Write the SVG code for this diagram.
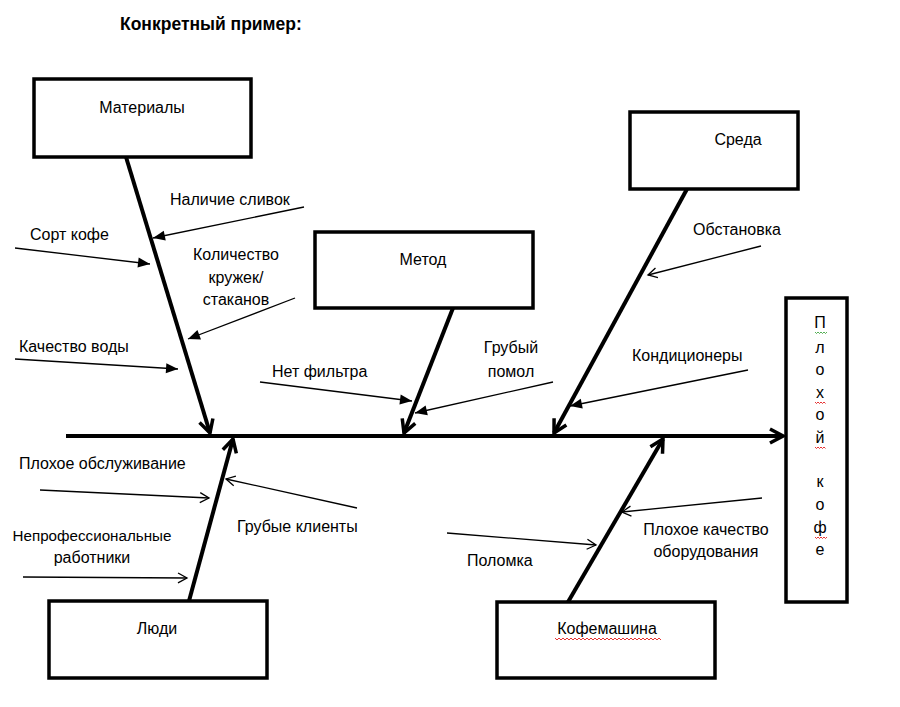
<svg xmlns="http://www.w3.org/2000/svg" width="900" height="707" viewBox="0 0 900 707">
<style>
text{font-family:"Liberation Sans","DejaVu Sans",sans-serif;font-size:16px;fill:#000}
.t{text-anchor:middle}
.title{font-weight:bold;font-size:17.5px}
.box{fill:#fff;stroke:#000;stroke-width:3.5}
.bone{stroke:#000;stroke-width:4;fill:none}
.thin{stroke:#000;stroke-width:1.3;fill:none}
.wavy{fill:none;stroke:#e00000;stroke-width:0.8}
.wavyg{fill:none;stroke:#2a9a2a;stroke-width:0.8}
</style>
<defs>
<marker id="big" viewBox="-16 -10 18 20" refX="0" refY="0" markerWidth="18" markerHeight="20" markerUnits="userSpaceOnUse" orient="auto">
<path d="M-13,-7 L0,0 L-13,7" fill="none" stroke="#000" stroke-width="3.5"/>
</marker>
<marker id="fill" viewBox="-14 -7 16 14" refX="0" refY="0" markerWidth="16" markerHeight="14" markerUnits="userSpaceOnUse" orient="auto">
<path d="M-12,-5 L0,0 L-12,5 Z" fill="#000"/>
</marker>
<marker id="open" viewBox="-12 -7 14 14" refX="0" refY="0" markerWidth="14" markerHeight="14" markerUnits="userSpaceOnUse" orient="auto">
<path d="M-9,-5 L0,0 L-9,5" fill="none" stroke="#000" stroke-width="1.3"/>
</marker>
</defs>
<rect width="900" height="707" fill="#fff"/>
<text class="title" x="120" y="30">Конкретный пример:</text>

<g id="connectors">
<line class="bone" x1="66" y1="436" x2="783" y2="436" marker-end="url(#big)"/>
<line class="bone" x1="126" y1="157" x2="210" y2="433" marker-end="url(#big)"/>
<line class="bone" x1="453" y1="308" x2="404" y2="433" marker-end="url(#big)"/>
<line class="bone" x1="687" y1="189" x2="554" y2="433" marker-end="url(#big)"/>
<line class="bone" x1="189" y1="601" x2="233" y2="439" marker-end="url(#big)"/>
<line class="bone" x1="568" y1="602" x2="663" y2="439" marker-end="url(#big)"/>

<line class="thin" x1="304" y1="207" x2="153" y2="238" marker-end="url(#fill)"/>
<line class="thin" x1="15" y1="248" x2="150" y2="264" marker-end="url(#fill)"/>
<line class="thin" x1="295" y1="298" x2="188" y2="339" marker-end="url(#fill)"/>
<line class="thin" x1="15" y1="359" x2="178" y2="369" marker-end="url(#fill)"/>
<line class="thin" x1="260" y1="382" x2="412" y2="401" marker-end="url(#fill)"/>
<line class="thin" x1="553" y1="382" x2="415" y2="413" marker-end="url(#fill)"/>
<line class="thin" x1="761" y1="246" x2="648" y2="275" marker-end="url(#open)"/>
<line class="thin" x1="748" y1="370" x2="570" y2="406" marker-end="url(#fill)"/>
<line class="thin" x1="40" y1="490" x2="209" y2="498" marker-end="url(#open)"/>
<line class="thin" x1="357" y1="508" x2="226" y2="479" marker-end="url(#open)"/>
<line class="thin" x1="23" y1="577" x2="187" y2="578" marker-end="url(#open)"/>
<line class="thin" x1="447" y1="533" x2="596" y2="545" marker-end="url(#open)"/>
<line class="thin" x1="762" y1="498" x2="622" y2="512" marker-end="url(#open)"/>
</g>

<g id="labels">
<text x="170" y="205">Наличие сливок</text>
<text x="30" y="240">Сорт кофе</text>
<text class="t" x="236" y="260">Количество</text>
<text class="t" x="236" y="283">кружек/</text>
<text class="t" x="236" y="305">стаканов</text>
<text x="19" y="352">Качество воды</text>
<text x="272" y="377">Нет фильтра</text>
<text class="t" x="511" y="353">Грубый</text>
<text class="t" x="511" y="377">помол</text>
<text x="693" y="235">Обстановка</text>
<text x="632" y="361">Кондиционеры</text>
<text x="19" y="469">Плохое обслуживание</text>
<text x="237" y="532">Грубые клиенты</text>
<text class="t" x="92" y="541" style="font-size:15.2px">Непрофессиональные</text>
<text class="t" x="92" y="563">работники</text>
<text x="467" y="566">Поломка</text>
<text class="t" x="706" y="535">Плохое качество</text>
<text class="t" x="706" y="557">оборудования</text>
</g>

<g id="materials">
<rect class="box" x="34" y="79" width="217" height="78"/>
<text class="t" x="142" y="113">Материалы</text>
</g>
<g id="method">
<rect class="box" x="315" y="232" width="218" height="76"/>
<text class="t" x="423" y="265">Метод</text>
</g>
<g id="environment">
<rect class="box" x="630" y="112" width="168" height="77"/>
<text class="t" x="738" y="145">Среда</text>
</g>
<g id="people">
<rect class="box" x="49" y="601" width="218" height="77"/>
<text class="t" x="157" y="634">Люди</text>
</g>
<g id="machine">
<rect class="box" x="497" y="602" width="218" height="76"/>
<text class="t" x="607" y="634">Кофемашина</text>
<path class="wavy" d="M555,638 l2,2 l2,-2 l2,2 l2,-2 l2,2 l2,-2 l2,2 l2,-2 l2,2 l2,-2 l2,2 l2,-2 l2,2 l2,-2 l2,2 l2,-2 l2,2 l2,-2 l2,2 l2,-2 l2,2 l2,-2 l2,2 l2,-2 l2,2 l2,-2 l2,2 l2,-2 l2,2 l2,-2 l2,2 l2,-2 l2,2 l2,-2 l2,2 l2,-2 l2,2 l2,-2 l2,2 l2,-2 l2,2 l2,-2 l2,2 l2,-2 l2,2 l2,-2 l2,2 l2,-2 l2,2 l2,-2 l2,2 l2,-2 l2,2"/>
</g>
<g id="effect">
<rect class="box" x="786" y="298" width="61" height="304"/>
<text class="t" x="820" y="328">П</text>
<text class="t" x="820" y="353">л</text>
<text class="t" x="820" y="375">о</text>
<text class="t" x="820" y="398">х</text>
<text class="t" x="820" y="420">о</text>
<text class="t" x="820" y="443">й</text>
<text class="t" x="820" y="487">к</text>
<text class="t" x="820" y="510">о</text>
<text class="t" x="820" y="533">ф</text>
<text class="t" x="820" y="555">е</text>
<path class="wavyg" d="M815,332 l1.5,1.5 l1.5,-1.5 l1.5,1.5 l1.5,-1.5 l1.5,1.5 l1.5,-1.5 l1.5,1.5 l1.5,-1.5"/>
<path class="wavy" d="M815,402 l1.5,1.5 l1.5,-1.5 l1.5,1.5 l1.5,-1.5 l1.5,1.5 l1.5,-1.5 l1.5,1.5"/>
<path class="wavy" d="M815,447 l1.5,1.5 l1.5,-1.5 l1.5,1.5 l1.5,-1.5 l1.5,1.5 l1.5,-1.5 l1.5,1.5"/>
<path class="wavy" d="M815,537 l1.5,1.5 l1.5,-1.5 l1.5,1.5 l1.5,-1.5 l1.5,1.5 l1.5,-1.5 l1.5,1.5 l1.5,-1.5"/>
</g>
</svg>
